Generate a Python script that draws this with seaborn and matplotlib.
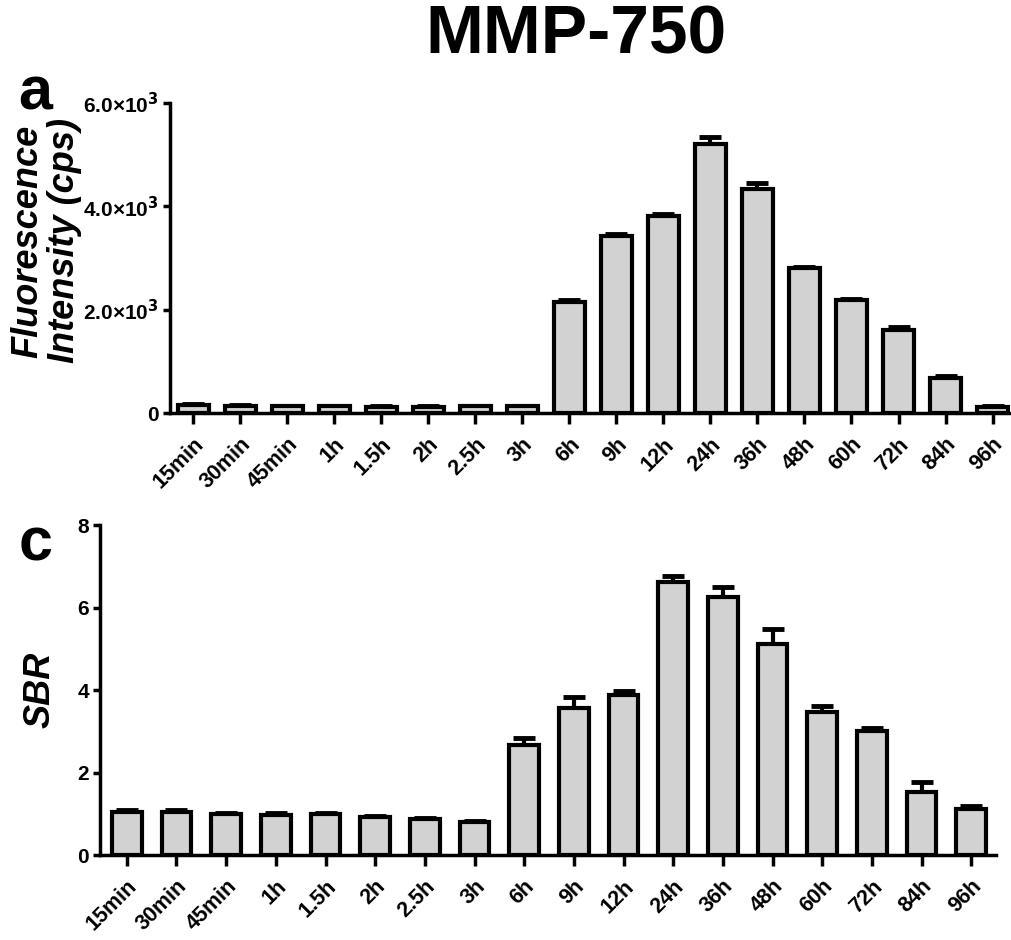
import numpy as np
import pandas as pd
import matplotlib
matplotlib.use("Agg")
import matplotlib.pyplot as plt
import seaborn as sns

# data
times = ['15min', '30min', '45min', '1h', '1.5h', '2h', '2.5h', '3h', '6h',
         '9h', '12h', '24h', '36h', '48h', '60h', '72h', '84h', '96h']

fluo_mean = [150, 140, 130, 130, 120, 120, 130, 130, 2150,
             3420, 3820, 5200, 4330, 2810, 2180, 1600, 670, 120]
fluo_err = [30, 10, 10, 10, 10, 10, 10, 10, 30,
            40, 30, 140, 120, 20, 30, 60, 40, 20]

sbr_mean = [1.05, 1.05, 0.99, 0.98, 0.99, 0.93, 0.87, 0.81, 2.67,
            3.56, 3.88, 6.61, 6.25, 5.12, 3.46, 3.01, 1.52, 1.11]
sbr_err = [0.04, 0.04, 0.02, 0.04, 0.02, 0.02, 0.03, 0.02, 0.16,
           0.26, 0.10, 0.15, 0.26, 0.36, 0.16, 0.08, 0.26, 0.08]

fluo_ticks = [0, 2000, 4000, 6000]
fluo_ticklabels = ['0', r'2.0×10$^{\mathbf{3}}$', r'4.0×10$^{\mathbf{3}}$', r'6.0×10$^{\mathbf{3}}$']
sbr_ticks = [0, 2, 4, 6, 8]

sns.set_style('ticks')
plt.rcParams['font.family'] = ['Liberation Sans', 'DejaVu Sans']
plt.rcParams['font.weight'] = 'bold'
plt.rcParams['mathtext.default'] = 'bf'
plt.rcParams['text.color'] = 'black'
plt.rcParams['axes.labelcolor'] = 'black'
plt.rcParams['xtick.color'] = 'black'
plt.rcParams['ytick.color'] = 'black'
plt.rcParams['axes.edgecolor'] = 'black'

fig = plt.figure(figsize=(10.12, 9.4), dpi=100)
ax1 = fig.add_axes([0.168, 0.5606, 0.830, 0.3298])
ax2 = fig.add_axes([0.0988, 0.0904, 0.885, 0.351])

fill = '#d2d2d2'


def draw_panel(ax, means, errs, width):
    df = pd.DataFrame({'time': times, 'value': means})
    sns.barplot(data=df, x='time', y='value', order=times, color=fill,
                edgecolor='black', linewidth=3, width=width, saturation=1,
                ax=ax, zorder=3)
    xs = [p.get_x() + p.get_width() / 2 for p in ax.patches]
    ax.errorbar(xs, means, yerr=[np.zeros(len(errs)), errs], fmt='none',
                ecolor='black', elinewidth=3, capsize=8, capthick=3.5, zorder=2)
    sns.despine(ax=ax)
    ax.spines['left'].set_linewidth(2.5)
    ax.spines['bottom'].set_linewidth(2.5)
    ax.set_xlabel('')
    ax.tick_params(axis='x', length=8, width=2.5, pad=7)
    ax.tick_params(axis='y', length=5, width=2.5, pad=3, labelsize=15)
    ax.set_xticks(range(len(times)))
    ax.set_xticklabels(times, rotation=45, ha='right', rotation_mode='anchor',
                       fontsize=15.5, fontweight='bold')


# panel a
draw_panel(ax1, fluo_mean, fluo_err, 0.66)
ax1.set_xlim(-0.49, 17.37)
ax1.set_ylim(0, 6000)
ax1.set_yticks(fluo_ticks)
ax1.set_yticklabels(fluo_ticklabels, fontweight='bold')
ax1.set_ylabel('Fluorescence\nIntensity (cps)', fontsize=26, fontweight='bold',
               fontstyle='italic', linespacing=1.05)
ax1.yaxis.set_label_coords(-0.105, 0.555)

# panel c
draw_panel(ax2, sbr_mean, sbr_err, 0.6)
ax2.set_xlim(-0.54, 17.49)
ax2.set_ylim(0, 8)
ax2.set_yticks(sbr_ticks)
ax2.set_yticklabels([str(t) for t in sbr_ticks], fontweight='bold')
ax2.set_ylabel('SBR', fontsize=26, fontweight='bold', fontstyle='italic')
ax2.yaxis.set_label_coords(-0.047, 0.5)

fig.text(0.569, 0.962, 'MMP-750', ha='center', va='center', fontsize=50, fontweight='bold')
fig.text(0.018, 0.883, 'a', ha='left', va='baseline', fontsize=44, fontweight='bold')
fig.text(0.018, 0.404, 'c', ha='left', va='baseline', fontsize=44, fontweight='bold')

fig.savefig('out.png', dpi=100, facecolor='white')
